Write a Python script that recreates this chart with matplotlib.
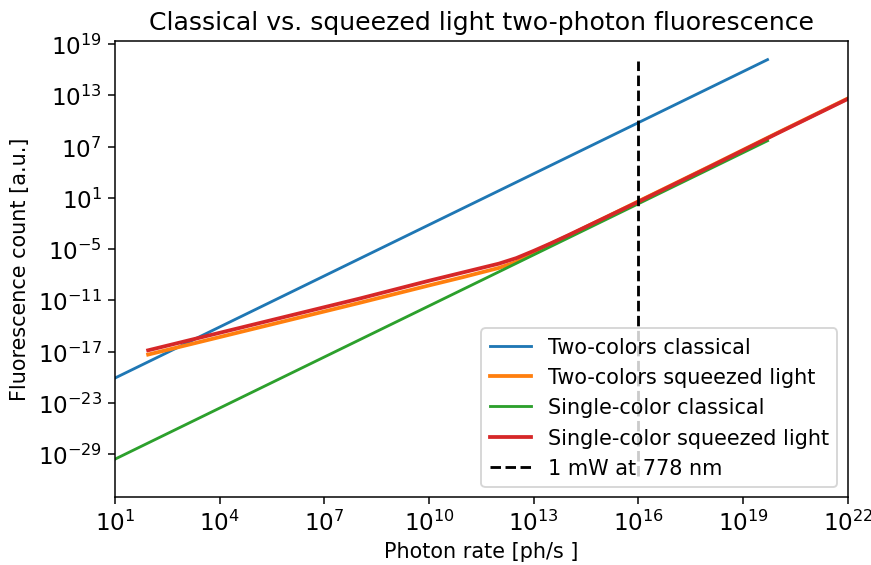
import numpy as np
import matplotlib
matplotlib.use("Agg")
import matplotlib.pyplot as plt

# values, as log10 of photon rate / fluorescence count
# straight classical lines: end points only
classical_logx = [1.0, 19.7]
two_col_classical_logy = [-20.1, 17.2]
single_col_classical_logy = [-29.6, 7.7]

# squeezed light curves: points picked along the curves
squeezed_logx = [1.95, 4, 6, 8, 10, 11, 12, 12.5, 13, 13.5, 14, 16, 18, 20, 22]
two_col_squeezed_logy = [-17.35, -15.3, -13.3, -11.3, -9.25, -8.25, -7.2, -6.5,
                         -5.4, -4.35, -3.4, 0.6, 4.6, 8.65, 12.65]
single_col_squeezed_logy = [-16.85, -14.8, -12.8, -10.8, -8.7, -7.7, -6.7, -6.05,
                            -5.2, -4.3, -3.35, 0.55, 4.55, 8.6, 12.6]

# 1 mW at 778 nm marker
marker_logx = 16.0
marker_logy = [-31.6, 17.0]


def pw(vals):
    return np.power(10.0, np.asarray(vals, dtype=float))


fig = plt.figure(figsize=(6.41, 4.16), dpi=136)
ax = fig.add_axes([0.1319, 0.1201, 0.8406, 0.8062])

ax.plot(pw(classical_logx), pw(two_col_classical_logy), color="tab:blue",
        lw=1.5, label="Two-colors classical")
ax.plot(pw(squeezed_logx), pw(two_col_squeezed_logy), color="tab:orange",
        lw=2.0, label="Two-colors squeezed light")
ax.plot(pw(classical_logx), pw(single_col_classical_logy), color="tab:green",
        lw=1.5, label="Single-color classical")
ax.plot(pw(squeezed_logx), pw(single_col_squeezed_logy), color="tab:red",
        lw=2.0, label="Single-color squeezed light")
ax.vlines(10.0 ** marker_logx, 10.0 ** marker_logy[0], 10.0 ** marker_logy[1],
          colors="black", linestyles="--", lw=1.5, label="1 mW at 778 nm")

ax.set_xscale("log")
ax.set_yscale("log")
ax.set_xlim(1e1, 1e22)
ax.set_ylim(10.0 ** -34.04, 10.0 ** 19.39)

ax.set_xticks([10.0 ** k for k in range(1, 23, 3)])
ax.set_yticks([10.0 ** k for k in range(-29, 20, 6)])
ax.minorticks_off()
ax.tick_params(labelsize=12.2)

ax.set_title("Classical vs. squeezed light two-photon fluorescence", fontsize=13.3)
ax.set_xlabel("Photon rate [ph/s ]", fontsize=11, labelpad=3)
ax.set_ylabel("Fluorescence count [a.u.]", fontsize=11)
ax.legend(loc="lower right", fontsize=11)

fig.savefig("out.png", dpi=136)
